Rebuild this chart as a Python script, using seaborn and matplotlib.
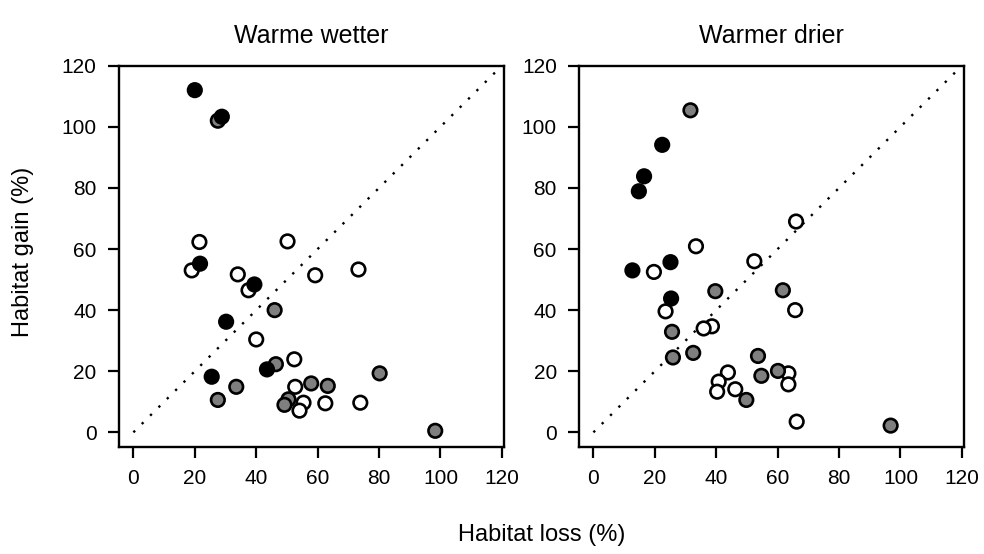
import pandas as pd
import seaborn as sns
import matplotlib.pyplot as plt

# Warme wetter panel (habitat loss %, habitat gain %)
wet_black_loss = [20.0, 28.8, 21.7, 39.4, 30.2, 43.5, 25.5]
wet_black_gain = [112.0, 103.3, 55.2, 48.4, 36.2, 20.6, 18.2]
wet_grey_loss = [27.5, 46.0, 46.4, 33.5, 27.5, 50.5, 49.2, 57.9, 63.3, 80.2, 98.3]
wet_grey_gain = [102.0, 40.0, 22.3, 14.9, 10.6, 10.8, 9.0, 16.0, 15.2, 19.3, 0.5]
wet_open_loss = [21.5, 50.2, 19.0, 34.0, 37.5, 40.0, 52.4, 52.7, 55.4, 54.1, 59.2, 73.3, 62.5, 73.9]
wet_open_gain = [62.3, 62.5, 53.0, 51.7, 46.5, 30.4, 23.9, 14.9, 9.7, 7.1, 51.4, 53.3, 9.5, 9.7]

# Warmer drier panel
dry_black_loss = [22.4, 16.5, 14.8, 12.7, 25.1, 25.3]
dry_black_gain = [94.1, 83.8, 78.9, 53.0, 55.7, 43.8]
dry_grey_loss = [31.6, 39.7, 25.6, 32.5, 25.9, 53.6, 54.7, 49.8, 61.7, 60.1, 96.8]
dry_grey_gain = [105.4, 46.2, 32.9, 26.0, 24.5, 25.0, 18.5, 10.6, 46.5, 20.1, 2.2]
dry_open_loss = [33.4, 52.4, 19.7, 23.5, 38.6, 35.9, 43.8, 40.8, 40.3, 46.2, 66.0, 65.7, 63.5, 63.5, 66.2]
dry_open_gain = [60.9, 56.0, 52.5, 39.6, 34.7, 34.0, 19.6, 16.6, 13.3, 14.1, 69.0, 40.0, 19.3, 15.7, 3.5]

titles = ["Warme wetter", "Warmer drier"]
ticks = [0, 20, 40, 60, 80, 100, 120]
palette = {"open": "white", "grey": "#7f7f7f", "black": "black"}


def make_df(groups):
    frames = []
    for name, loss, gain in groups:
        frames.append(pd.DataFrame({"loss": loss, "gain": gain, "group": name}))
    return pd.concat(frames, ignore_index=True)


wet = make_df([("open", wet_open_loss, wet_open_gain),
               ("grey", wet_grey_loss, wet_grey_gain),
               ("black", wet_black_loss, wet_black_gain)])
dry = make_df([("open", dry_open_loss, dry_open_gain),
               ("grey", dry_grey_loss, dry_grey_gain),
               ("black", dry_black_loss, dry_black_gain)])

sns.set_style("ticks", {"axes.edgecolor": "black", "text.color": "black",
                        "xtick.color": "black", "ytick.color": "black"})
plt.rcParams['font.family'] = ['Liberation Sans', 'DejaVu Sans']

fig = plt.figure(figsize=(9.84, 5.54), dpi=100)
axes = [fig.add_axes([0.1209, 0.1937, 0.3913, 0.6877]),
        fig.add_axes([0.5884, 0.1937, 0.3913, 0.6877])]

for ax, df, title in zip(axes, [wet, dry], titles):
    ax.plot([0, 120], [0, 120], color="black", linewidth=1.7,
            linestyle=(0, (1, 4.0)), zorder=1)
    sns.scatterplot(data=df, x="loss", y="gain", hue="group", palette=palette,
                    edgecolor="black", linewidth=1.9, s=95, legend=False,
                    ax=ax, zorder=3)
    ax.set_xlim(-4.7, 120.7)
    ax.set_ylim(-4.7, 120.0)
    ax.set_xticks(ticks)
    ax.set_yticks(ticks)
    ax.tick_params(direction="out", length=8, width=1.6, labelsize=15, pad=8,
                   colors="black")
    for sp in ax.spines.values():
        sp.set_visible(True)
        sp.set_linewidth(1.7)
        sp.set_color("black")
    ax.set_xlabel("")
    ax.set_ylabel("")
    ax.set_title(title, fontsize=18, pad=16, color="black")

fig.text(0.5503, 0.034, "Habitat loss (%)", ha="center", va="center",
         fontsize=17, color="black")
fig.text(0.023, 0.545, "Habitat gain (%)", ha="center", va="center",
         rotation=90, fontsize=17, color="black")

plt.savefig("out.png", dpi=100)
